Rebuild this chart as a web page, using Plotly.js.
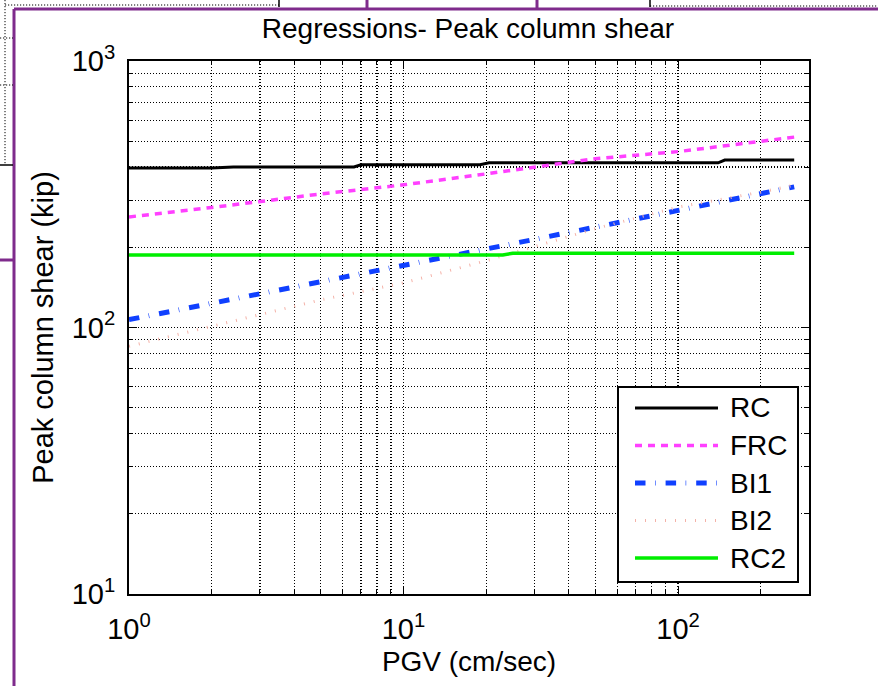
<!DOCTYPE html>
<html>
<head>
<meta charset="utf-8">
<script src="https://cdn.plot.ly/plotly-3.0.1.min.js"></script>
<style>
  html, body { margin: 0; padding: 0; background: #fff; }
  #chart { width: 878px; height: 686px; }
</style>
</head>
<body>
<div id="chart"></div>
<script>
// Regression curves: peak column shear (kip) vs PGV (cm/sec), log-log
const rcPgv    = [1, 2, 2.4, 6.6, 7.0, 19, 20.5, 140, 148, 265];
const rcShear  = [397, 397, 400, 400, 408, 408, 415, 415, 425, 425];

const frcPgv   = [1, 2, 5, 10, 20, 50, 100, 200, 265];
const frcShear = [260, 282, 317, 343, 377, 430, 457, 501, 518];

const bi1Pgv   = [1, 2, 5, 10, 20, 50, 100, 200, 265];
const bi1Shear = [107, 123, 148, 170, 197, 238, 276, 319, 337];

const bi2Pgv   = [1, 2, 5, 10, 20, 50, 100, 200, 265];
const bi2Shear = [85, 101, 127, 147, 178, 235, 283, 322, 342];

const rc2Pgv   = [1, 23, 25, 265];
const rc2Shear = [187, 187, 190, 190];

const seriesNames = ['RC', 'FRC', 'BI1', 'BI2', 'RC2'];

const xTickVals = [1, 10, 100];
const xTickText = ['10<sup>0</sup>', '10<sup>1</sup>', '10<sup>2</sup>'];
const yTickVals = [10, 100, 1000];
const yTickText = ['10<sup>1</sup>', '10<sup>2</sup>', '10<sup>3</sup>'];

// ---- styling ----
const FONT = 'Liberation Sans, Arial, Helvetica, sans-serif';
const lineStyles = {
  RC:  { color: '#000000', width: 3,   dash: 'solid' },
  FRC: { color: '#ff40ff', width: 3.5, dash: '7px,6px' },
  BI1: { color: '#1040ff', width: 5,   dash: '10.5px,9.5px,0.6px,10px' },
  BI2: { color: '#f4b2a8', width: 3,   dash: '1px,9px' },
  RC2: { color: '#00ee00', width: 3.5, dash: 'solid' }
};

const xs = [rcPgv, frcPgv, bi1Pgv, bi2Pgv, rc2Pgv];
const ys = [rcShear, frcShear, bi1Shear, bi2Shear, rc2Shear];

const traces = seriesNames.map((name, i) => ({
  type: 'scatter',
  mode: 'lines',
  name: name,
  x: xs[i],
  y: ys[i],
  line: Object.assign({}, lineStyles[name]),
  showlegend: false,
  hoverinfo: 'x+y+name'
}));

// minor grid positions (2..9 within each decade)
function minorVals(lo, hi) {
  const out = [];
  for (let d = lo; d < hi; d++) {
    for (let m = 2; m <= 9; m++) out.push(m * Math.pow(10, d));
  }
  return out;
}

// plot-area geometry in pixels
const W = 878, H = 686;
const L = 129, R = 809, T = 61, B = 594;
const px2x = p => (p - L) / (R - L);
const py2y = p => (B - p) / (B - T);

const gridDash = '1.2px,1.8px';
function axisBase(tickvals, ticktext, minor) {
  return {
    type: 'log',
    showline: true, linecolor: '#000', linewidth: 2, mirror: 'allticks',
    ticks: 'inside', ticklen: 8, tickwidth: 1, tickcolor: '#000',
    showgrid: true, gridcolor: '#000', gridwidth: 1.2, griddash: gridDash,
    zeroline: false,
    tickmode: 'array', tickvals: tickvals, ticktext: ticktext,
    tickfont: { family: FONT, size: 29, color: '#000' },
    minor: {
      tickmode: 'array', tickvals: minor,
      ticks: 'inside', ticklen: 4, tickcolor: '#000',
      showgrid: true, gridcolor: '#000', gridwidth: 1.2, griddash: gridDash
    }
  };
}

const xaxis = axisBase(xTickVals, xTickText, minorVals(0, 3).filter(v => v <= 300));
xaxis.range = [0, Math.log10(300)];
xaxis.title = { text: 'PGV (cm/sec)', font: { family: FONT, size: 28, color: '#000' }, standoff: 8 };
xaxis.ticklabelstandoff = 8;

const yaxis = axisBase(yTickVals, yTickText, minorVals(1, 3));
yaxis.range = [1, 3];
yaxis.title = { text: 'Peak column shear (kip)', font: { family: FONT, size: 29, color: '#000' }, standoff: 10 };
yaxis.ticklabelstandoff = 6;

// ---- legend (box, line samples, labels) ----
const shapes = [];
const annotations = [];
const legBox = { x0: 618, x1: 798, y0: 387, y1: 582 };
shapes.push({
  type: 'rect', xref: 'paper', yref: 'paper', layer: 'above',
  x0: px2x(legBox.x0), x1: px2x(legBox.x1), y0: py2y(legBox.y1), y1: py2y(legBox.y0),
  fillcolor: '#ffffff', line: { color: '#000', width: 2 }
});
const rowY0 = 408, rowStep = 37.5;
seriesNames.forEach((name, i) => {
  const py = rowY0 + i * rowStep;
  shapes.push({
    type: 'line', xref: 'paper', yref: 'paper', layer: 'above',
    x0: px2x(635), x1: px2x(718), y0: py2y(py), y1: py2y(py),
    line: Object.assign({}, lineStyles[name])
  });
  annotations.push({
    xref: 'paper', yref: 'paper', x: px2x(728), y: py2y(py),
    xanchor: 'left', yanchor: 'middle', showarrow: false,
    text: name, font: { family: FONT, size: 28, color: '#000' }
  });
});

// ---- surrounding window frame ----
const purple = '#7f2b8c';
function seg(x0, y0, x1, y1, color, width, dash) {
  shapes.push({
    type: 'line', xref: 'paper', yref: 'paper', layer: 'below',
    x0: px2x(x0), x1: px2x(x1), y0: py2y(y0), y1: py2y(y1),
    line: { color: color, width: width, dash: dash || 'solid' }
  });
}
seg(14, 9, W, 9, purple, 3);
seg(14, 9, 14, H, purple, 3);
seg(367, 0, 367, 8, purple, 3);
seg(537, 0, 537, 8, purple, 3);
seg(0, 260, 13, 260, purple, 3);
seg(0, 165, 13, 165, '#000', 1.5);
seg(5, 0, 5, 164, '#000', 1, gridDash);
seg(0, 38, 13, 38, '#000', 1, gridDash);
seg(0, 85, 13, 85, '#000', 1, gridDash);
seg(5, 5, 279, 5, '#000', 1, gridDash);
seg(279, 0, 279, 7, '#000', 1.5);
seg(650, 0, 650, 7, '#000', 1.5);
seg(650, 6, W, 6, '#000', 1, gridDash);

const layout = {
  width: W, height: H,
  margin: { l: L, r: W - R, t: T, b: H - B, pad: 0 },
  paper_bgcolor: '#ffffff', plot_bgcolor: '#ffffff',
  title: {
    text: 'Regressions- Peak column shear',
    font: { family: FONT, size: 28, color: '#000' },
    x: px2x(468), xref: 'paper', xanchor: 'center',
    y: 1 - 28 / H, yref: 'container', yanchor: 'middle'
  },
  xaxis: xaxis,
  yaxis: yaxis,
  showlegend: false,
  shapes: shapes,
  annotations: annotations
};

Plotly.newPlot('chart', traces, layout, { staticPlot: true, displayModeBar: false });
</script>
</body>
</html>
